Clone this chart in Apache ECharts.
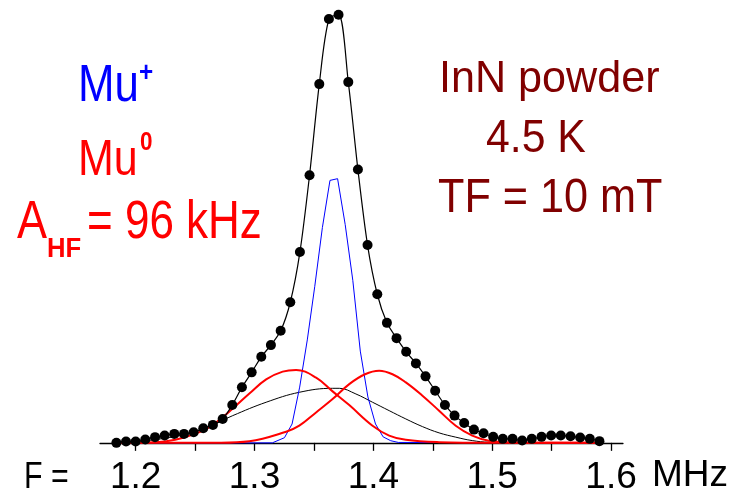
<!DOCTYPE html>
<html><head><meta charset="utf-8">
<script src="https://cdn.jsdelivr.net/npm/echarts@6/dist/echarts.min.js"></script>
<style>html,body{margin:0;padding:0;background:#fff}#c{width:731px;height:496px}</style>
</head><body><div id="c"></div>
<script>
// frequency (MHz) of measured Fourier points
const freq = [1.1838,1.1919,1.2000,1.2081,1.2163,1.2244,1.2325,1.2407,1.2488,1.2569,1.2650,1.2732,1.2813,1.2894,1.2976,1.3057,1.3138,1.3220,1.3301,1.3382,1.3463,1.3545,1.3626,1.3707,1.3789,1.3870,1.3951,1.4033,1.4114,1.4195,1.4276,1.4358,1.4439,1.4520,1.4602,1.4683,1.4764,1.4846,1.4927,1.5008,1.5089,1.5171,1.5252,1.5333,1.5415,1.5496,1.5577,1.5659,1.5740,1.5821,1.5902];
// measured amplitude (arb. units)
const amp = [0.0,0.30,0.30,0.77,1.33,1.70,2.09,2.09,2.49,3.42,4.19,5.58,8.84,12.95,16.44,20.07,22.79,26.12,32.79,44.49,62.40,83.65,98.84,99.84,84.12,63.72,46.12,34.65,27.98,24.42,21.23,18.53,15.51,12.16,8.84,6.35,4.65,3.09,2.26,1.40,0.93,0.93,0.53,0.93,1.40,1.70,1.70,1.56,1.23,0.93,0.40];
// Mu+ component [MHz, amplitude]
const muPlus = [[1.1838,0],[1.3150,0],[1.3252,1.2],[1.3316,4.4],[1.3380,13.0],[1.3444,24.0],[1.3507,36.5],[1.3571,50.2],[1.3635,61.2],[1.3699,61.6],[1.3763,50.9],[1.3827,37.9],[1.3890,21.4],[1.3954,10.7],[1.4018,4.4],[1.4082,1.4],[1.4146,0.5],[1.4210,0.1],[1.5902,0]];
// Mu0 lower line
const mu0Low = [[1.1838,0],[1.2000,0.05],[1.2258,0.4],[1.2537,2.5],[1.2678,4.8],[1.2817,8.0],[1.2957,11.5],[1.3098,14.8],[1.3237,16.6],[1.3350,17.0],[1.3518,15.2],[1.3657,12.0],[1.3797,8.8],[1.3993,4.0],[1.4133,1.7],[1.4273,0.7],[1.4553,0.16],[1.5000,0],[1.5902,0]];
// Mu0 upper line
const mu0High = [[1.1838,0],[1.2700,0.05],[1.2957,0.4],[1.3266,2.6],[1.3377,4.0],[1.3518,7.1],[1.3657,10.2],[1.3797,13.7],[1.3930,16.0],[1.4049,16.8],[1.4161,16.0],[1.4273,14.1],[1.4413,11.0],[1.4553,7.5],[1.4693,4.0],[1.4832,1.7],[1.4973,0.5],[1.5225,0.07],[1.5902,0]];
// broad diamagnetic component
const broad = [[1.1838,0.2],[1.2118,0.6],[1.2537,2.86],[1.2817,6.35],[1.3098,9.47],[1.3377,11.79],[1.3657,12.72],[1.3713,12.72],[1.3853,11.40],[1.3993,9.47],[1.4133,7.51],[1.4273,5.58],[1.4413,3.79],[1.4553,2.33],[1.4693,1.33],[1.4832,0.53],[1.4973,0.16],[1.5902,0]];
const tickLabels = [1.2,1.3,1.4,1.5,1.6];
const tickMarks = [1.2,1.25,1.3,1.35,1.4,1.45,1.5,1.55,1.6];

const NARROW = "'Liberation Sans Narrow','Arial Narrow','Liberation Sans',Arial,sans-serif";
const SANS = "'Liberation Sans',Arial,sans-serif";
function txt(text, x, y, size, color, opts) {
  opts = opts || {};
  return {type:'text', x:x, y:y, scaleX: opts.sx || 1, silent:true,
    style:{text:text, fontSize:size, fontFamily:SANS, fontWeight: opts.bold ? 'bold' : 'normal', fill:color, align:'left', verticalAlign:'middle'}};
}
const chart = echarts.init(document.getElementById('c'), null, {renderer:'canvas'});
chart.setOption({
  animation:false,
  backgroundColor:'#fff',
  grid:{left:100, right:107, top:14, bottom:50, containLabel:false},
  xAxis:{type:'value', min:1.17, max:1.61,
    axisLine:{lineStyle:{color:'#000', width:1.3}},
    axisTick:{customValues:tickMarks, length:8, lineStyle:{color:'#000', width:1.3}},
    axisLabel:{customValues:tickLabels, margin:14, fontSize:37, fontFamily:NARROW, color:'#000',
      formatter:function(v){return v.toFixed(1);}},
    splitLine:{show:false},
    name:'MHz', nameLocation:'end', nameGap:29,
    nameTextStyle:{fontSize:37, fontFamily:NARROW, color:'#000', verticalAlign:'top', padding:[14,0,0,0]}
  },
  yAxis:{type:'value', min:-0.5, max:100, show:false},
  graphic:[
    txt('F =', 24, 478, 37, '#000', {sx:0.82}),
    txt('Mu', 78, 87, 51, '#0000ff', {sx:0.86}),
    txt('+', 139, 74, 27, '#0000ff', {bold:true, sx:0.9}),
    txt('Mu', 78, 161, 50, '#ff0000', {sx:0.86}),
    txt('0', 140, 143, 25, '#ff0000', {bold:true, sx:0.9}),
    txt('A', 17, 223, 53, '#ff0000', {sx:0.85}),
    txt('HF', 47, 250, 27, '#ff0000', {bold:true, sx:0.95}),
    txt('= 96 kHz', 87, 223, 53, '#ff0000', {sx:0.83}),
    txt('InN powder', 439, 80, 44, '#800000', {sx:0.98}),
    txt('4.5 K', 486, 139, 46, '#800000', {sx:0.93}),
    txt('TF = 10 mT', 438, 199, 48, '#800000', {sx:0.9})
  ],
  series:[
    {type:'line', data:broad, showSymbol:false, smooth:0.4, lineStyle:{color:'#000', width:1}, z:2},
    {type:'line', data:muPlus, showSymbol:false, smooth:false, lineStyle:{color:'#0000ff', width:1}, z:3},
    {type:'line', data:mu0Low, showSymbol:false, smooth:0.4, lineStyle:{color:'#ff0000', width:2}, z:4},
    {type:'line', data:mu0High, showSymbol:false, smooth:0.4, lineStyle:{color:'#ff0000', width:2}, z:4},
    {type:'line', data:freq.map(function(f,i){return [f, amp[i]];}), smooth:0.3, clip:false,
      symbol:'circle', symbolSize:10, showSymbol:true,
      itemStyle:{color:'#000'}, lineStyle:{color:'#000', width:1.2}, z:10}
  ]
});
</script></body></html>
